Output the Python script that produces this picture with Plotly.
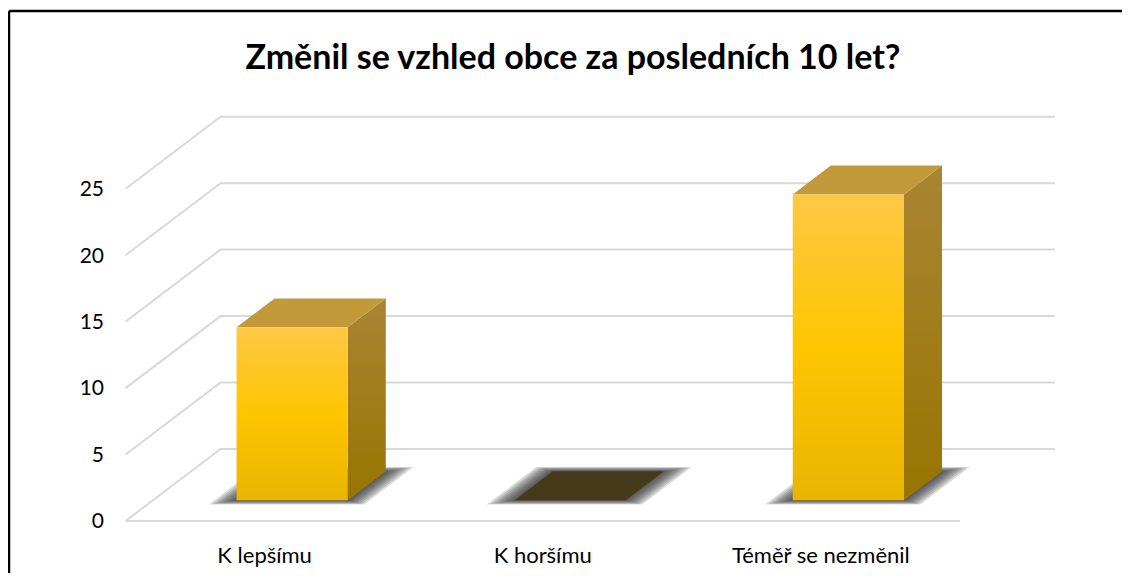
import plotly.graph_objects as go

# ---- data ----
categories = ["K lepšímu", "K horšímu", "Téměř se nezměnil"]
values = [13, 0, 23]
y_ticks = [0, 5, 10, 15, 20, 25]
title_text = "Změnil se vzhled obce za posledních 10 let?"

# ---- pseudo-3D geometry (in axis units) ----
DX, DY = 0.3416, 5.42          # full floor depth vector
F0, F1 = 0.29, 0.69            # bar depth span (fraction of floor depth)
HALF_W = 0.20                  # half bar width (category units)
X_LEFT, X_RIGHT = -0.5, len(categories) - 0.5

GRID = "#D9D9D9"
FONT = "Lato, 'Open Sans', sans-serif"

fig = go.Figure()

# gridlines: left wall diagonals + back wall lines + front floor edge
gx, gy = [], []
for v in y_ticks:
    gx += [X_LEFT, X_LEFT + DX, X_RIGHT + DX, None]
    gy += [v, v + DY, v + DY, None]
gx += [X_LEFT, X_RIGHT, None]
gy += [0, 0, None]
fig.add_trace(go.Scatter(x=gx, y=gy, mode="lines", line=dict(color=GRID, width=2),
                         hoverinfo="skip", showlegend=False))

def poly(xs, ys, **kw):
    fig.add_trace(go.Scatter(x=xs + [xs[0]], y=ys + [ys[0]], mode="lines", fill="toself",
                             line=dict(width=0), hoverinfo="skip", showlegend=False, **kw))

# shadows (soft, layered)
N_LAYERS = 8
EX_MAX = 0.08
for i, v in enumerate(values):
    for k in range(N_LAYERS):
        ex = EX_MAX * (1 - k / N_LAYERS)
        fd = 0.06 * (1 - k / N_LAYERS)
        a0, a1 = F0 - fd, F1 + fd
        xs = [i - HALF_W - ex + a0 * DX, i + HALF_W + ex + a0 * DX,
              i + HALF_W + ex + a1 * DX, i - HALF_W - ex + a1 * DX]
        ys = [a0 * DY, a0 * DY, a1 * DY, a1 * DY]
        poly(xs, ys, fillcolor="rgba(45,45,45,0.16)")

# bars
for i, v in enumerate(values):
    xl0 = i - HALF_W + F0 * DX
    xr0 = i + HALF_W + F0 * DX
    xl1 = i - HALF_W + F1 * DX
    xr1 = i + HALF_W + F1 * DX
    yb0, yb1 = F0 * DY, F1 * DY
    if v > 0:
        # side face
        poly([xr0, xr1, xr1, xr0], [yb0, yb1, yb1 + v, yb0 + v],
             fillgradient=dict(type="vertical", start=yb0, stop=yb1 + v,
                               colorscale=[[0, "#987500"], [1, "#AA8434"]]))
        # top face
        poly([xl0, xr0, xr1, xl1], [yb0 + v, yb0 + v, yb1 + v, yb1 + v],
             fillcolor="#C39A3A")
        # front face
        poly([xl0, xr0, xr0, xl0], [yb0, yb0, yb0 + v, yb0 + v],
             fillgradient=dict(type="vertical", start=yb0, stop=yb0 + v,
                               colorscale=[[0, "#E9B500"], [0.5, "#FFC500"], [1, "#FEC845"]]))
    else:
        poly([xl0, xr0, xr1, xl1], [yb0, yb0, yb1, yb1], fillcolor="#473A1A")

# page has an 8px body margin, so layout pixel targets are shifted by -8
W, H = 1114, 565
L, T = 112, 101
R, B = W - 1052, H - 521
pw, ph = W - L - R, H - T - B

fig.update_layout(
    width=W, height=H,
    margin=dict(l=L, r=R, t=T, b=B, autoexpand=False),
    paper_bgcolor="white", plot_bgcolor="white",
    showlegend=False,
    title=dict(text=f"<b>{title_text}</b>", x=565 / W, xanchor="center",
               y=1 - 49 / H, yanchor="middle", yref="container",
               font=dict(family=FONT, size=34, color="#000000")),
    xaxis=dict(range=[-0.52, 2.86], tickvals=list(range(len(categories))),
               ticktext=categories, showgrid=False, zeroline=False, showline=False,
               ticks="", ticklabelstandoff=11, automargin=False,
               tickfont=dict(family=FONT, size=22, color="#000000"), fixedrange=True),
    yaxis=dict(range=[-0.6, 31.0], tickvals=y_ticks, showgrid=False, zeroline=False,
               showline=False, ticks="", ticklabelstandoff=15, automargin=False,
               tickfont=dict(family=FONT, size=21, color="#000000"), fixedrange=True),
    shapes=[
        dict(type="line", xref="paper", yref="paper",
             x0=(1 - L) / pw, x1=(1 - L) / pw, y0=(H - B - 3) / ph, y1=(H - B - 620) / ph,
             line=dict(color="#000000", width=2.5)),
        dict(type="line", xref="paper", yref="paper",
             x0=(1 - L) / pw, x1=(1160 - L) / pw, y0=(H - B - 3) / ph, y1=(H - B - 3) / ph,
             line=dict(color="#000000", width=2.5)),
    ],
)

fig.write_html("out.html")
